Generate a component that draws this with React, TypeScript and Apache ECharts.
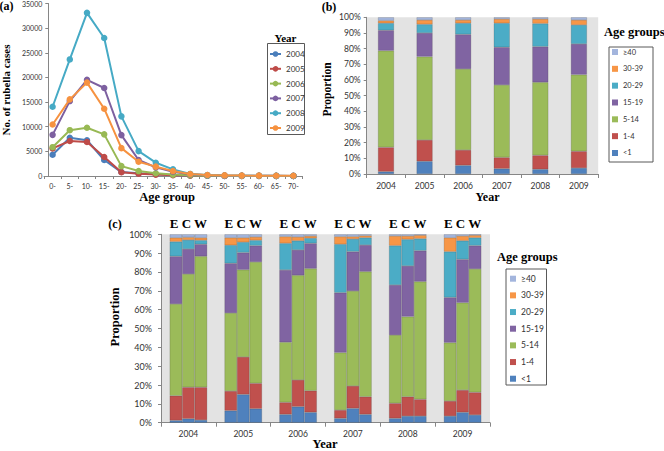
import React, { useEffect, useRef } from "react";
import * as echarts from "echarts";

// ---------- Panel (a): rubella cases by age group ----------
const ageGroupsA = ["0-", "5-", "10-", "15-", "20-", "25-", "30-", "35-", "40-", "45-", "50-", "55-", "60-", "65-", "70-"];
const yearsA = ["2004", "2005", "2006", "2007", "2008", "2009"];
const cases2004 = [4300, 7750, 7250, 3250, 800, 550, 350, 200, 100, 50, 30, 20, 20, 10, 10];
const cases2005 = [5600, 7100, 6900, 3850, 750, 450, 280, 150, 80, 40, 20, 20, 10, 10, 10];
const cases2006 = [5850, 9300, 9800, 8450, 2000, 1000, 550, 280, 150, 70, 40, 30, 20, 20, 10];
const cases2007 = [8350, 15200, 19500, 17850, 8300, 3250, 1750, 880, 350, 150, 80, 50, 40, 30, 20];
const cases2008 = [14050, 23650, 33100, 28000, 12100, 5050, 2700, 1350, 420, 180, 90, 60, 40, 30, 20];
const cases2009 = [10450, 15550, 18950, 13650, 5650, 2900, 1900, 1000, 400, 200, 120, 80, 70, 60, 60];
const casesByYear = [cases2004, cases2005, cases2006, cases2007, cases2008, cases2009];

// ---------- Panel (b): proportion by age group, national ----------
const years = ["2004", "2005", "2006", "2007", "2008", "2009"];
const ageBands = ["<1", "1-4", "5-14", "15-19", "20-29", "30-39", "≥40"];
const nationShares = [
  [1.5, 8.1, 5.5, 3.4, 3.0, 3.8],
  [15.5, 13.6, 9.8, 7.2, 8.9, 10.7],
  [61.7, 53.2, 51.7, 46.2, 46.6, 48.9],
  [13.0, 15.1, 22.1, 24.1, 22.8, 19.6],
  [4.5, 5.5, 7.1, 15.3, 14.7, 12.1],
  [1.7, 2.8, 2.1, 2.7, 2.9, 3.2],
  [2.1, 1.7, 1.7, 1.1, 1.1, 1.7],
];

// ---------- Panel (c): proportion by age group, East / Central / West ----------
const regions = ["E", "C", "W"];
const eastShares = [
  [1.2, 6.4, 4.4, 2.3, 2.3, 3.5],
  [13.1, 10.4, 6.4, 4.4, 8.0, 8.0],
  [48.7, 41.4, 31.9, 30.5, 36.2, 31.0],
  [25.3, 26.4, 38.4, 31.8, 26.6, 24.0],
  [7.8, 9.6, 14.1, 25.7, 20.9, 24.3],
  [2.1, 4.0, 3.6, 4.1, 5.1, 7.4],
  [1.8, 1.8, 1.2, 1.2, 0.9, 1.8],
];
const centralShares = [
  [2.1, 15.0, 8.5, 7.6, 3.5, 5.5],
  [16.7, 19.9, 14.2, 11.9, 10.3, 11.8],
  [60.1, 46.3, 55.5, 50.4, 42.5, 46.4],
  [13.3, 9.1, 13.5, 20.9, 26.9, 23.0],
  [4.8, 5.5, 4.9, 6.7, 14.1, 9.9],
  [1.4, 2.4, 2.0, 1.3, 1.8, 2.5],
  [1.6, 1.8, 1.4, 1.2, 0.9, 0.9],
];
const westShares = [
  [1.4, 7.4, 5.5, 4.4, 3.5, 4.1],
  [17.4, 13.5, 11.5, 9.4, 8.9, 12.0],
  [69.5, 64.4, 64.8, 66.4, 62.5, 65.5],
  [6.4, 8.7, 13.4, 14.1, 16.4, 12.4],
  [2.1, 2.8, 2.7, 3.9, 6.4, 4.2],
  [1.4, 1.8, 1.2, 1.1, 1.8, 1.3],
  [1.8, 1.4, 0.9, 0.7, 0.5, 0.5],
];
const regionShares = [eastShares, centralShares, westShares];

const lineColors = ["#4A7EBB", "#BE4B48", "#98B954", "#7D60A0", "#46AAC5", "#F69240"];
const ageColors = ["#4F81BD", "#C0504D", "#9BBB59", "#8064A2", "#4BACC6", "#F79646", "#A3B5DD"];

const SANS = "Lato";
const SERIF = "Liberation Serif";
const AXIS_COLOR = "#868686";
const LABEL_COLOR = "#333";
const GRAY_BG = "#E3E3E3";

function axisLine() {
  return { show: true, lineStyle: { color: AXIS_COLOR, width: 1 } };
}

function buildOption(): any {
  const lineSeries = yearsA.map((y, i) => ({
    type: "line",
    name: y,
    xAxisIndex: 0,
    yAxisIndex: 0,
    data: casesByYear[i],
    symbol: "circle",
    symbolSize: 6.5,
    showSymbol: true,
    lineStyle: { width: 2, color: lineColors[i] },
    itemStyle: { color: lineColors[i] },
    z: 2 + i,
  }));

  const barBorder = { borderColor: "rgba(40,40,40,0.35)", borderWidth: 0.5 };

  const nationSeries = ageBands.map((a, i) => ({
    type: "bar",
    name: a,
    xAxisIndex: 1,
    yAxisIndex: 1,
    stack: "nation",
    barWidth: 16,
    data: nationShares[i],
    itemStyle: { color: ageColors[i], ...barBorder },
  }));

  const regionSeries: any[] = [];
  regions.forEach((r, ri) => {
    ageBands.forEach((a, i) => {
      regionSeries.push({
        type: "bar",
        name: a,
        xAxisIndex: 2,
        yAxisIndex: 2,
        stack: r,
        barWidth: 12.5,
        barGap: "0%",
        data: regionShares[ri][i],
        itemStyle: { color: ageColors[i], ...barBorder },
      });
    });
  });

  const boldText = (text: string, x: number, y: number, size: number, opts: any = {}) => ({
    type: "text",
    x,
    y,
    rotation: opts.rotation || 0,
    z: 10,
    style: {
      text,
      fontFamily: SERIF,
      fontWeight: "bold",
      fontSize: size,
      fill: "#000",
      align: opts.align || "center",
      verticalAlign: "middle",
    },
  });

  const box = (x: number, y: number, w: number, h: number) => ({
    type: "rect",
    z: -1,
    shape: { x, y, width: w, height: h },
    style: { fill: "#fff", stroke: "#595959", lineWidth: 1 },
  });

  const legendText = (size: number) => ({ fontFamily: SANS, fontSize: size, color: LABEL_COLOR, lineHeight: 10 });

  return {
    animation: false,
    backgroundColor: "#fff",
    grid: [
      { left: 44, top: 3.3, width: 258, height: 172.7 },
      { left: 366.7, top: 17.3, width: 231.5, height: 156.7, show: true, backgroundColor: GRAY_BG, borderWidth: 0 },
      { left: 161, top: 234.3, width: 329, height: 188.4, show: true, backgroundColor: GRAY_BG, borderWidth: 0 },
    ],
    xAxis: [
      {
        type: "category",
        gridIndex: 0,
        data: ageGroupsA,
        boundaryGap: true,
        axisLine: axisLine(),
        axisTick: { show: true, length: 3, lineStyle: { color: AXIS_COLOR } },
        axisLabel: { interval: 0, fontFamily: SANS, fontSize: 7, color: LABEL_COLOR, margin: 6 },
        splitLine: { show: false },
      },
      {
        type: "category",
        gridIndex: 1,
        data: years,
        axisLine: axisLine(),
        axisTick: { show: true, length: 4, lineStyle: { color: AXIS_COLOR } },
        axisLabel: { interval: 0, fontFamily: SANS, fontSize: 8.5, color: LABEL_COLOR, margin: 7 },
      },
      {
        type: "category",
        gridIndex: 2,
        data: years,
        axisLine: axisLine(),
        axisTick: { show: true, length: 4, lineStyle: { color: AXIS_COLOR } },
        axisLabel: { interval: 0, fontFamily: SANS, fontSize: 8.5, color: LABEL_COLOR, margin: 7 },
      },
      {
        type: "category",
        gridIndex: 2,
        position: "top",
        data: years,
        axisLine: { show: false },
        axisTick: { show: false },
        axisLabel: {
          interval: 0,
          formatter: () => regions.join(" "),
          fontFamily: SERIF,
          fontWeight: "bold",
          fontSize: 13,
          color: "#000",
          margin: 4,
        },
      },
    ],
    yAxis: [
      {
        type: "value",
        gridIndex: 0,
        min: 0,
        max: 35000,
        interval: 5000,
        offset: -4.3,
        axisLine: axisLine(),
        axisTick: { show: true, length: 3, lineStyle: { color: AXIS_COLOR } },
        axisLabel: {
          formatter: (v: number) => String(v),
          fontFamily: SANS,
          fontSize: 7,
          color: LABEL_COLOR,
          margin: 6,
        },
        splitLine: { show: false },
      },
      {
        type: "value",
        gridIndex: 1,
        min: 0,
        max: 100,
        interval: 10,
        axisLine: axisLine(),
        axisTick: { show: true, length: 3, lineStyle: { color: AXIS_COLOR } },
        axisLabel: { formatter: "{value}%", fontFamily: SANS, fontSize: 8.5, color: LABEL_COLOR, margin: 6 },
        splitLine: { show: false },
      },
      {
        type: "value",
        gridIndex: 2,
        min: 0,
        max: 100,
        interval: 10,
        axisLine: axisLine(),
        axisTick: { show: true, length: 3, lineStyle: { color: AXIS_COLOR } },
        axisLabel: { formatter: "{value}%", fontFamily: SANS, fontSize: 9, color: LABEL_COLOR, margin: 9 },
        splitLine: { show: false },
      },
    ],
    legend: [
      {
        data: yearsA,
        orient: "vertical",
        left: 269,
        top: 49,
        padding: 0,
        itemWidth: 11,
        itemHeight: 7,
        itemGap: 4.8,
        textStyle: legendText(8),
      },
      {
        data: ageBands.slice().reverse(),
        orient: "vertical",
        left: 612,
        top: 47,
        padding: 0,
        icon: "rect",
        itemWidth: 6,
        itemHeight: 6,
        itemGap: 6.83,
        itemStyle: { borderWidth: 0 },
        textStyle: legendText(7.5),
      },
      {
        data: ageBands.slice().reverse(),
        orient: "vertical",
        left: 510,
        top: 273.7,
        padding: 0,
        icon: "rect",
        itemWidth: 6,
        itemHeight: 6,
        itemGap: 6.67,
        itemStyle: { borderWidth: 0 },
        textStyle: legendText(8.5),
      },
    ],
    graphic: [
      box(267.5, 43.5, 37, 91),
      box(609, 47, 44, 115),
      box(506, 269, 40.5, 116),
      boldText("(a)", 6.5, 6, 12),
      boldText("(b)", 329, 6.7, 12),
      boldText("(c)", 115, 224, 12),
      boldText("No. of rubella cases", 6, 90, 11, { rotation: Math.PI / 2 }),
      boldText("Age group", 167, 197, 12.5),
      boldText("Year", 285.5, 38, 11),
      boldText("Proportion", 326.5, 89.5, 11.5, { rotation: Math.PI / 2 }),
      boldText("Year", 487.5, 197, 12),
      boldText("Age groups", 604, 32, 12.5, { align: "left" }),
      boldText("Proportion", 115, 317, 12.5, { rotation: Math.PI / 2 }),
      boldText("Year", 325, 443.5, 12.5),
      boldText("Age groups", 497, 257, 12.5, { align: "left" }),
    ],
    series: [...lineSeries, ...nationSeries, ...regionSeries],
  };
}

export default function App() {
  const ref = useRef<HTMLDivElement>(null);
  useEffect(() => {
    document.body.style.margin = "0";
    const chart = echarts.init(ref.current as HTMLDivElement, null, { renderer: "svg" });
    chart.setOption(buildOption());
    return () => chart.dispose();
  }, []);
  return (
    <div
      ref={ref}
      style={{ position: "absolute", left: 0, top: 0, width: 664, height: 451 }}
    />
  );
}
